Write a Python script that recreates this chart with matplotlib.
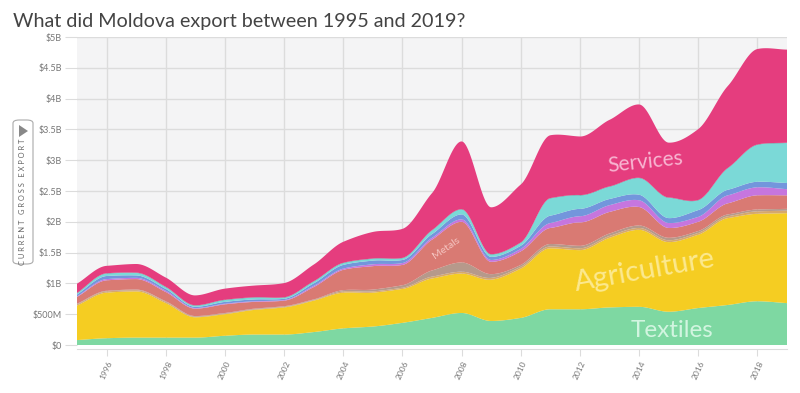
import numpy as np
import matplotlib
matplotlib.use("Agg")
import matplotlib.pyplot as plt
from matplotlib.patches import FancyBboxPatch, Polygon

years = list(range(1995, 2020))

# export values by sector, billions of USD
textiles = [0.08, 0.11, 0.12, 0.12, 0.12, 0.15, 0.17, 0.17, 0.21, 0.27, 0.30, 0.36, 0.44,
            0.52, 0.39, 0.44, 0.58, 0.58, 0.61, 0.62, 0.54, 0.60, 0.65, 0.71, 0.68]
agriculture = [0.56, 0.74, 0.75, 0.56, 0.33, 0.35, 0.40, 0.44, 0.51, 0.58, 0.55, 0.55, 0.64,
               0.64, 0.67, 0.80, 0.99, 0.96, 1.13, 1.25, 1.13, 1.19, 1.41, 1.42, 1.46]
minerals = [0.02, 0.02, 0.02, 0.02, 0.01, 0.01, 0.01, 0.01, 0.01, 0.02, 0.02, 0.02, 0.03,
            0.03, 0.03, 0.03, 0.03, 0.03, 0.03, 0.03, 0.03, 0.03, 0.03, 0.04, 0.04]
chemicals = [0.01, 0.01, 0.01, 0.01, 0.01, 0.01, 0.01, 0.01, 0.01, 0.02, 0.03, 0.04, 0.10,
             0.15, 0.06, 0.03, 0.04, 0.04, 0.04, 0.04, 0.04, 0.03, 0.03, 0.03, 0.03]
metals = [0.11, 0.17, 0.17, 0.15, 0.12, 0.14, 0.11, 0.09, 0.20, 0.33, 0.38, 0.33, 0.50,
          0.66, 0.20, 0.22, 0.26, 0.38, 0.35, 0.30, 0.16, 0.15, 0.18, 0.23, 0.22]
machinery = [0.01, 0.02, 0.02, 0.02, 0.01, 0.01, 0.01, 0.01, 0.02, 0.02, 0.03, 0.03, 0.03,
             0.04, 0.03, 0.04, 0.08, 0.10, 0.11, 0.11, 0.08, 0.08, 0.13, 0.13, 0.10]
electronics = [0.03, 0.05, 0.04, 0.03, 0.02, 0.03, 0.03, 0.02, 0.04, 0.06, 0.06, 0.05, 0.06,
               0.08, 0.05, 0.05, 0.12, 0.12, 0.10, 0.09, 0.08, 0.11, 0.09, 0.09, 0.10]
vehicles = [0.02, 0.04, 0.04, 0.03, 0.02, 0.03, 0.03, 0.02, 0.03, 0.03, 0.03, 0.03, 0.06,
            0.08, 0.04, 0.05, 0.28, 0.22, 0.20, 0.27, 0.33, 0.16, 0.35, 0.60, 0.65]
other = [0.005] * 25
services = [0.15, 0.12, 0.14, 0.15, 0.16, 0.18, 0.19, 0.23, 0.27, 0.34, 0.43, 0.47, 0.60,
            1.10, 0.76, 0.94, 1.02, 0.95, 1.08, 1.19, 0.89, 1.15, 1.33, 1.55, 1.51]

layers = [textiles, agriculture, minerals, chemicals, metals, machinery,
          electronics, vehicles, other, services]
colors = ["#7ed8a2", "#f5cd22", "#d6a86c", "#b6998b", "#d97a73", "#c676de",
          "#7396dc", "#7bd9d7", "#4d5266", "#e53d7e"]
year_ticks = list(range(1996, 2019, 2))
value_ticks = [0, 0.5, 1, 1.5, 2, 2.5, 3, 3.5, 4, 4.5, 5]
value_labels = ["$0", "$500M", "$1B", "$1.5B", "$2B", "$2.5B", "$3B", "$3.5B", "$4B", "$4.5B", "$5B"]


def monotone(x, y, xs):
    # monotone cubic curve, like the smoothed areas of the original
    x = np.asarray(x, float)
    y = np.asarray(y, float)
    h = np.diff(x)
    d = np.diff(y) / h
    m = np.zeros_like(y)
    m[0], m[-1] = d[0], d[-1]
    for k in range(1, len(x) - 1):
        if d[k - 1] * d[k] > 0:
            w1 = 2 * h[k] + h[k - 1]
            w2 = h[k] + 2 * h[k - 1]
            m[k] = (w1 + w2) / (w1 / d[k - 1] + w2 / d[k])
    i = np.clip(np.searchsorted(x, xs) - 1, 0, len(x) - 2)
    t = (xs - x[i]) / h[i]
    h00 = 2 * t**3 - 3 * t**2 + 1
    h10 = t**3 - 2 * t**2 + t
    h01 = -2 * t**3 + 3 * t**2
    h11 = t**3 - t**2
    return h00 * y[i] + h10 * h[i] * m[i] + h01 * y[i + 1] + h11 * h[i] * m[i + 1]


xs = np.linspace(years[0], years[-1], 600)
smooth = [np.clip(monotone(years, np.array(l) * 1e9, xs), 0, None) for l in layers]

plt.rcParams['font.family'] = ['Lato', 'DejaVu Sans']

fig = plt.figure(figsize=(8, 3.93), dpi=100)
ax = fig.add_axes([77 / 800, 48 / 393, 710 / 800, 308 / 393])
ax.set_facecolor("#f4f4f5")

ax.stackplot(xs, *smooth, colors=colors, linewidth=0, zorder=3)

ax.set_xlim(1995, 2019)
ax.set_ylim(0, 5e9)
ax.set_yticks([v * 1e9 for v in value_ticks])
ax.set_yticklabels(value_labels)
ax.set_xticks(year_ticks)
ax.set_xticklabels([str(y) for y in year_ticks])
ax.tick_params(axis="y", length=9, color="#dcdcdc", labelsize=6.5, labelcolor="#777777", pad=2)
ax.tick_params(axis="x", length=5, color="#dcdcdc", labelsize=6, labelcolor="#777777", pad=3,
               labelrotation=65)
for lbl in ax.get_xticklabels():
    lbl.set_ha("center")
    lbl.set_va("top")
ax.grid(True, color="#dcdcdc", linewidth=1, zorder=1)
ax.set_axisbelow(True)
for s in ["top", "right", "left"]:
    ax.spines[s].set_visible(False)
ax.spines["bottom"].set_color("#dcdcdc")
ax.spines["bottom"].set_position(("outward", 3))

ax.text(2014.2, 2.97e9, "Services", color="#f8b6d2", fontsize=15, fontweight="normal",
        rotation=6, ha="center", va="center", zorder=5)
ax.text(2014.2, 1.2e9, "Agriculture", color="#fce98f", fontsize=21, fontweight="normal",
        rotation=10, ha="center", va="center", zorder=5)
ax.text(2015.1, 0.24e9, "Textiles", color="#d2f5e0", fontsize=17.5, fontweight="normal",
        rotation=0, ha="center", va="center", zorder=5)
ax.text(2007.5, 1.57e9, "Metals", color="#f5c6c2", fontsize=7.5, fontweight="normal",
        rotation=35, ha="center", va="center", zorder=5)

fig.text(13 / 800, 1 - 22 / 393, "What did Moldova export between 1995 and 2019?",
         fontsize=14.2, color="#444444", ha="left", va="center")

# y-axis label box
box = FancyBboxPatch((13 / 800, 1 - 264 / 393), 20 / 800, 144 / 393,
                     boxstyle="round,pad=0,rounding_size=0.008", transform=fig.transFigure,
                     facecolor="white", edgecolor="#aaaaaa", linewidth=0.8)
fig.patches.append(box)
tri = Polygon([(19 / 800, 1 - 125 / 393), (19 / 800, 1 - 137 / 393), (28 / 800, 1 - 131 / 393)],
              closed=True, transform=fig.transFigure, facecolor="#888888", edgecolor="none")
fig.patches.append(tri)
fig.text(23 / 800, 1 - 202 / 393, " ".join("CURRENT GROSS EXPORT"), rotation=90,
         fontsize=5.4, color="#666666", ha="center", va="center")

fig.savefig("out.png", dpi=100)
